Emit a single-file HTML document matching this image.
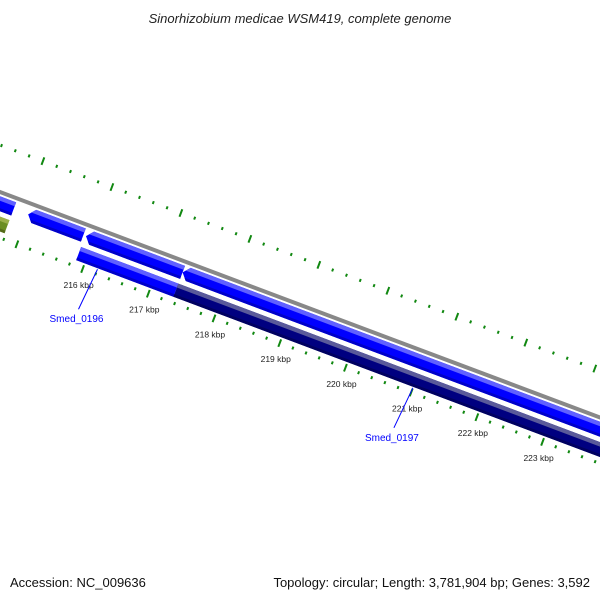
<!DOCTYPE html>
<html><head><meta charset="utf-8"><style>
body{margin:0;background:#fff}
svg{display:block;font-family:"Liberation Sans",sans-serif}
</style></head><body>
<svg id="map" width="600" height="600" viewBox="0 0 600 600">
<text x="300" y="23" text-anchor="middle" font-size="13" font-style="italic" fill="#222">Sinorhizobium medicae WSM419, complete genome</text>
<g id="ring" transform="translate(0,192) rotate(20.6)">
<line x1="-50" y1="0" x2="720" y2="0" stroke="#888" stroke-width="4"/>
</g>
<g id="labels"></g>
<text x="10" y="587" font-size="13" fill="#111">Accession: NC_009636</text>
<text x="590" y="587" text-anchor="end" font-size="13" fill="#111">Topology: circular; Length: 3,781,904 bp; Genes: 3,592</text>
</svg>
<script>
// data
const majorTicks = [213,214,215,216,217,218,219,220,221,222,223,224];
const tickLabels = ["216 kbp","217 kbp","218 kbp","219 kbp","220 kbp","221 kbp","222 kbp","223 kbp"];
const labelKbp = [216,217,218,219,220,221,222,223];
const geneStarts = [213.5,215.0,215.88,217.35,213.5,215.87,217.35];
const geneEnds = [214.78,215.84,217.35,225.0,214.78,217.35,225.0];
const geneRows = [1,1,1,1,2,2,2];
const geneKinds = ["blue","blue","blue","blue","olive","blue","navy"];
const genePointLeft = [false,true,true,true,false,false,false];
const geneNames = ["Smed_0196","Smed_0197"];
const geneNameKbp = [216.2,221.0];

const NS="http://www.w3.org/2000/svg";
const ring=document.getElementById('ring');
const labels=document.getElementById('labels');
const TH=20.6*Math.PI/180, C=Math.cos(TH), S=Math.sin(TH);
function uIn(k){return 104.4+(k-216)*70.2;}
function uOut(k){return 103+(k-216)*73.7;}
function toXY(u,v){return [u*C - v*S, 192 + u*S + v*C];}
const rowV={1:11,2:30};
const VIN=43, VOUT=-44;
function mk(tag,attrs){const e=document.createElementNS(NS,tag);for(const k in attrs)e.setAttribute(k,attrs[k]);return e;}

// ticks
for(let k=Math.round(majorTicks[0]*5);k<=Math.round(majorTicks[majorTicks.length-1]*5);k++){
  const kb=k/5; const major=(k%5===0);
  const L=major?4:1.5;
  const ui=uIn(kb);
  const t1=mk('line',{x1:ui,y1:VIN-L,x2:ui,y2:VIN+L,stroke:'#118811','stroke-width':2});
  
  
  ring.appendChild(t1);
  const uo=uOut(kb);
  const t2=mk('line',{x1:uo,y1:VOUT-L,x2:uo,y2:VOUT+L,stroke:'#118811','stroke-width':2});
  
  
  ring.appendChild(t2);
}
// genes
const col={blue:['#0000ff','#6060ff','#0000c8'],navy:['#000080','#5a5a9a','#000060'],olive:['#6b8e23','#9ab04a','#556b1a']};
for(let i=0;i<geneStarts.length;i++){
  const u0=uIn(geneStarts[i]), u1=uIn(geneEnds[i]), v=rowV[geneRows[i]], h=7;
  const c=col[geneKinds[i]];
  const g=mk('g',{});
  
  
  const tip=genePointLeft[i]?6:0;
  g.appendChild(mk('polygon',{points:`${u0},${v} ${u0+tip},${v-h} ${u1},${v-h} ${u1},${v+h} ${u0+tip},${v+h}`,fill:c[0]}));
  g.appendChild(mk('polygon',{points:`${u0+tip*0.4},${v-h*0.4} ${u0+tip},${v-h} ${u1},${v-h} ${u1},${v-h*0.4}`,fill:c[1]}));
  g.appendChild(mk('polygon',{points:`${u0+tip*0.6},${v+h*0.6} ${u1},${v+h*0.6} ${u1},${v+h} ${u0+tip},${v+h}`,fill:c[2]}));
  ring.appendChild(g);
}
// tick labels
for(let i=0;i<labelKbp.length;i++){
  const [x,y]=toXY(uIn(labelKbp[i]),VIN);
  const t=mk('text',{x:x-4,y:y+19,'text-anchor':'middle','font-size':8.5,fill:'#222'});
  t.textContent=tickLabels[i];
  
  
  labels.appendChild(t);
}
// gene name labels
for(let i=0;i<geneNames.length;i++){
  const [x,y]=toXY(uIn(geneNameKbp[i]),38);
  const ln=mk('line',{x1:x,y1:y,x2:x-19,y2:y+40,stroke:'#0000ff','stroke-width':1});
  
  
  labels.appendChild(ln);
  const t=mk('text',{x:x-21,y:y+53,'text-anchor':'middle','font-size':10,fill:'#0000ff'});
  t.textContent=geneNames[i];
  
  
  labels.appendChild(t);
}
</script>
</body></html>
